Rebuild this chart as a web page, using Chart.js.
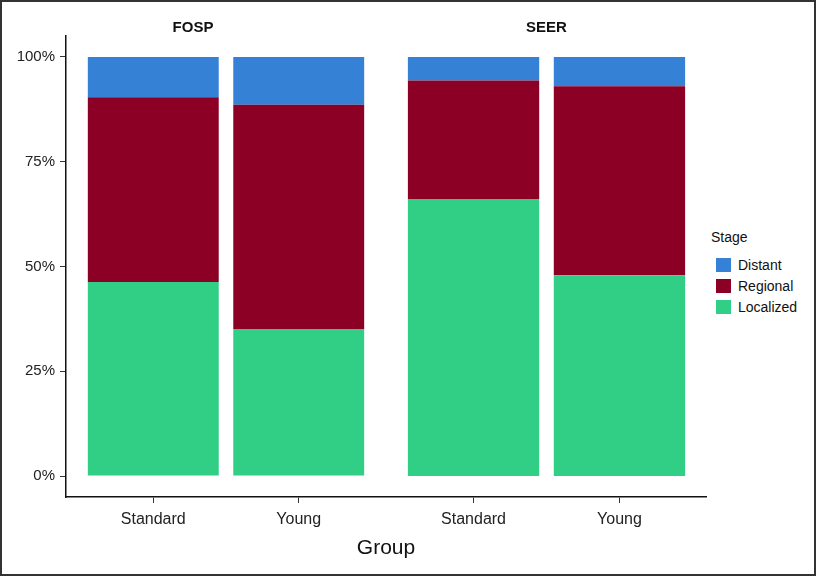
<!DOCTYPE html>
<html>
<head>
<meta charset="utf-8">
<script src="https://cdn.jsdelivr.net/npm/chart.js@4.4.0/dist/chart.umd.min.js"></script>
<style>
  body { margin: 0; background: #fff; font-family: "Liberation Sans", Arial, sans-serif; }
  #wrap { position: relative; width: 816px; height: 576px; overflow: hidden; }
  canvas { position: absolute; top: 0; }
  #frame { position: absolute; left: 0; top: 0; width: 816px; height: 576px; box-sizing: border-box; border: 2px solid #333; pointer-events: none; }
  #xtitle { position: absolute; left: 286px; width: 200px; top: 535px; text-align: center; font-size: 21px; color: #111; }
  #legend { position: absolute; left: 711px; top: 229px; font-size: 14px; color: #111; }
  #legend .item { position: relative; height: 21px; }
  #legend .box { position: absolute; left: 5px; top: 4px; width: 15px; height: 14px; }
  #legend .lab { position: absolute; left: 27px; top: 3px; }
</style>
</head>
<body>
<div id="wrap">
  <canvas id="fosp" width="386" height="540" style="left:0px"></canvas>
  <canvas id="seer" width="321" height="540" style="left:386px"></canvas>
  <div id="xtitle">Group</div>
  <div id="legend"><div style="height:25px">Stage</div></div>
  <div id="frame"></div>
</div>
<script>
var groups = ['Standard', 'Young'];
var stages = ['Localized', 'Regional', 'Distant'];
var stageColors = ['#31CE86', '#8B0024', '#3581D6'];
var yTicks = [0, 25, 50, 75, 100];

// percent of cases per stage, [Standard, Young]
var fospLocalized = [46.3, 35.1];
var fospRegional = [44.1, 53.5];
var fospDistant = [9.6, 11.4];

var seerLocalized = [66.1, 47.9];
var seerRegional = [28.3, 45.1];
var seerDistant = [5.6, 7.0];

function makeSets(vals) {
    return vals.map(function (arr, k) {
        return {
            label: stages[k],
            data: arr.map(function (v, i) { return { x: i + 1, y: v }; }),
            backgroundColor: stageColors[k],
            borderWidth: 0,
            barPercentage: 0.9,
            categoryPercentage: 1
        };
    });
}

function makeChart(id, title, vals, showY) {
    var ctx = document.getElementById(id).getContext('2d');
    return new Chart(ctx, {
        type: 'bar',
        data: { datasets: makeSets(vals) },
        options: {
            responsive: false,
            animation: false,
            layout: { padding: 0 },
            plugins: {
                legend: { display: false },
                tooltip: { enabled: false },
                title: {
                    display: true,
                    text: title,
                    color: '#111',
                    font: { family: 'Liberation Sans', size: 15, weight: 'bold', lineHeight: 1 },
                    padding: { top: 20, bottom: 1 }
                }
            },
            scales: {
                x: {
                    type: 'linear',
                    stacked: true,
                    offset: false,
                    min: 0.4,
                    max: 2.6,
                    afterBuildTicks: function (s) {
                        s.ticks = groups.map(function (g, i) { return { value: i + 1 }; });
                    },
                    afterFit: function (s) { s.height = 43; },
                    ticks: {
                        callback: function (v) { return groups[v - 1]; },
                        padding: 7,
                        color: '#222',
                        font: { family: 'Liberation Sans', size: 16 }
                    },
                    grid: { offset: false, drawOnChartArea: false, drawTicks: true, tickLength: 6, color: '#333' },
                    border: { display: true, color: '#111', width: 1.5 }
                },
                y: {
                    display: showY,
                    stacked: true,
                    min: -5,
                    max: 105,
                    afterBuildTicks: function (s) {
                        s.ticks = yTicks.map(function (v) { return { value: v }; });
                    },
                    afterFit: function (s) { if (showY) s.width = 66; },
                    ticks: {
                        callback: function (v) { return v + '%'; },
                        padding: 5,
                        color: '#222',
                        font: { family: 'Liberation Sans', size: 15 }
                    },
                    grid: { drawOnChartArea: false, drawTicks: true, tickLength: 6, color: '#333' },
                    border: { display: true, color: '#111', width: 1.5 }
                }
            }
        }
    });
}

makeChart('fosp', 'FOSP', [fospLocalized, fospRegional, fospDistant], true);
makeChart('seer', 'SEER', [seerLocalized, seerRegional, seerDistant], false);

// legend, top to bottom: Distant, Regional, Localized
var leg = document.getElementById('legend');
for (var k = stages.length - 1; k >= 0; k--) {
    var item = document.createElement('div');
    item.className = 'item';
    item.innerHTML = '<div class="box" style="background:' + stageColors[k] + '"></div><div class="lab">' + stages[k] + '</div>';
    leg.appendChild(item);
}
</script>
</body>
</html>
